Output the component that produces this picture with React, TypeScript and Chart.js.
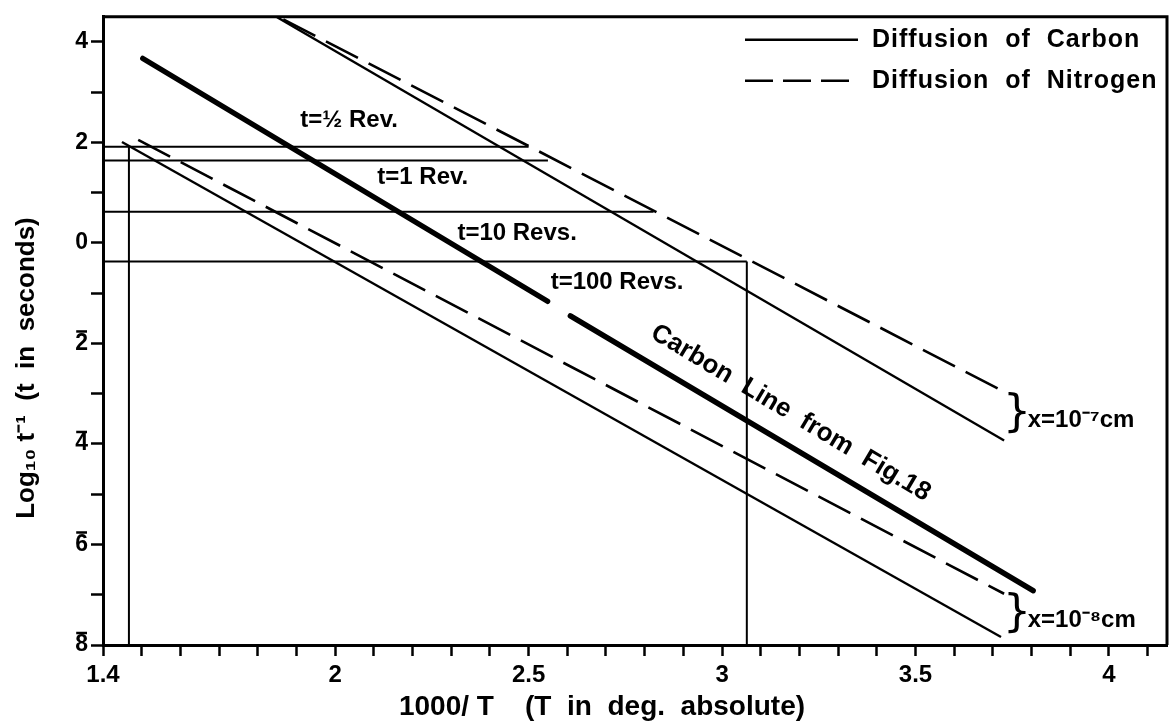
import React, { useEffect, useRef } from "react";
import { Chart, registerables } from "chart.js";

Chart.register(...registerables);

// ---- Axis ticks ----
const xLabelledTicks = [1.4, 2, 2.5, 3, 3.5, 4];
const yLabelledTicks = [4, 2, 0, -2, -4, -6, -8];
// negative characteristics are printed in bar notation (digit with an overline)
const yTickLabels = ["4", "2", "0", "2", "4", "6", "8"];
const yTickBarred = [false, false, false, true, true, true, true];

// ---- Carbon line from Fig. 18 (thick, with a break) ----
const fig18X = [1.503, 2.549, 2.578, 2.608, 3.804];
const fig18Y: (number | null)[] = [3.67, -1.16, null, -1.45, -6.92];

// ---- x = 1e-7 cm ----
const carbon7X = [1.85, 3.729];
const carbon7Y = [4.49, -3.93];
const nitrogen7X = [1.866, 3.734];
const nitrogen7Y = [4.45, -2.98];

// ---- x = 1e-8 cm ----
const carbon8X = [1.449, 3.721];
const carbon8Y = [2.01, -7.84];
const nitrogen8X = [1.491, 3.729];
const nitrogen8Y = [2.05, -6.98];

// ---- Revolution reference lines ----
const revLabels = ["t=\u00BD Rev.", "t=1 Rev.", "t=10 Revs.", "t=100 Revs."];
const revLogRate = [1.915, 1.64, 0.62, -0.37];
const revLineEndX = [2.5, 2.55, 2.823, 3.064];
const verticalX = [1.467, 3.064];
const verticalTopY = [1.915, -0.37];

// ---- label anchors (data units) ----
const revLabelX = [1.91, 2.109, 2.316, 2.557];
const revLabelY = [2.43, 1.295, 0.183, -0.78];
const sizeLabels = ["x=10\u207B\u2077cm", "x=10\u207B\u2078cm"];
const sizeLabelY = [-3.5, -7.48];
const sizeBraceX = 3.726;
const sizeLabelX = 3.79;

const FONT = "'Liberation Sans', Arial, sans-serif";
const Y_TICK_FONT_SIZE = 23;
const Y_TICK_LEN = 12;
const Y_TICK_PAD = 3;

function seg(xs: number[], ys: (number | null)[]) {
  return xs.map((x, i) => ({ x, y: ys[i] }));
}

export default function App() {
  const ref = useRef<HTMLCanvasElement | null>(null);

  useEffect(() => {
    document.body.style.margin = "0";
    const canvas = ref.current;
    if (!canvas) return;

    const solid = { borderColor: "#000", borderWidth: 2.4, pointRadius: 0, fill: false, tension: 0 };
    const dashed = { ...solid, borderWidth: 2.6, borderDash: [36, 12] };
    const thin = { borderColor: "#000", borderWidth: 2, pointRadius: 0, fill: false, tension: 0 };

    const datasets: any[] = [
      { label: "Carbon Line from Fig.18", data: seg(fig18X, fig18Y), ...solid, borderWidth: 5.5, spanGaps: false, borderCapStyle: "round" },
      { label: "Carbon 1e-7", data: seg(carbon7X, carbon7Y), ...solid },
      { label: "Nitrogen 1e-7", data: seg(nitrogen7X, nitrogen7Y), ...dashed },
      { label: "Carbon 1e-8", data: seg(carbon8X, carbon8Y), ...solid },
      { label: "Nitrogen 1e-8", data: seg(nitrogen8X, nitrogen8Y), ...dashed },
    ];
    revLogRate.forEach((r, i) => {
      datasets.push({ label: revLabels[i], data: [{ x: 1.4, y: r }, { x: revLineEndX[i], y: r }], ...thin });
    });
    verticalX.forEach((vx, i) => {
      datasets.push({ label: "v" + i, data: [{ x: vx, y: verticalTopY[i] }, { x: vx, y: -8 }], ...thin });
    });

    const annotate = {
      id: "annotate",
      afterDraw(chart: any) {
        const { ctx, chartArea: a, scales } = chart;
        const xs = scales.x, ys = scales.y;
        ctx.save();
        // frame (top + right)
        ctx.strokeStyle = "#000";
        ctx.lineWidth = 3;
        ctx.beginPath();
        ctx.moveTo(a.left, a.top);
        ctx.lineTo(a.right, a.top);
        ctx.lineTo(a.right, a.bottom);
        ctx.stroke();

        // overline bars on negative y tick labels
        ctx.font = `bold ${Y_TICK_FONT_SIZE}px ${FONT}`;
        ctx.lineWidth = 2.5;
        yLabelledTicks.forEach((v, i) => {
          if (!yTickBarred[i]) return;
          const w = ctx.measureText(yTickLabels[i]).width;
          const right = a.left - Y_TICK_LEN - Y_TICK_PAD;
          const yy = ys.getPixelForValue(v) - 12;
          ctx.beginPath();
          ctx.moveTo(right - w + 1, yy);
          ctx.lineTo(right - 1, yy);
          ctx.stroke();
        });

        ctx.fillStyle = "#000";
        // rev labels
        ctx.font = `bold 24px ${FONT}`;
        ctx.textAlign = "left";
        ctx.textBaseline = "middle";
        revLabels.forEach((t, i) => {
          ctx.fillText(t, xs.getPixelForValue(revLabelX[i]), ys.getPixelForValue(revLabelY[i]));
        });

        // rotated carbon label
        const x0 = xs.getPixelForValue(fig18X[0]), y0 = ys.getPixelForValue(fig18Y[0] as number);
        const x1 = xs.getPixelForValue(fig18X[4]), y1 = ys.getPixelForValue(fig18Y[4] as number);
        const ang = Math.atan2(y1 - y0, x1 - x0);
        const ax = 3.14;
        const ay = (fig18Y[0] as number) + ((fig18Y[4] as number) - (fig18Y[0] as number)) * (ax - fig18X[0]) / (fig18X[4] - fig18X[0]);
        const px = xs.getPixelForValue(ax) + Math.sin(ang) * 28;
        const py = ys.getPixelForValue(ay) - Math.cos(ang) * 28;
        ctx.save();
        ctx.translate(px, py);
        ctx.rotate(ang);
        ctx.textAlign = "center";
        ctx.font = `bold 26px ${FONT}`;
        ctx.fillText("Carbon  Line  from  Fig.18", 0, 0);
        ctx.restore();

        // size braces
        sizeLabels.forEach((t, i) => {
          const yy = ys.getPixelForValue(sizeLabelY[i]);
          ctx.font = `44px 'DejaVu Sans', sans-serif`;
          ctx.textAlign = "left";
          ctx.textBaseline = "middle";
          ctx.fillText("}", xs.getPixelForValue(sizeBraceX), yy - 4);
          ctx.font = `bold 24px ${FONT}`;
          ctx.fillText(t, xs.getPixelForValue(sizeLabelX), yy + 2);
        });

        // legend
        const lx0 = a.right - 422, lx1 = a.right - 309, tx = a.right - 295;
        const rows = [
          { t: "Diffusion  of  Carbon", dash: [] as number[], y: a.top + 23 },
          { t: "Diffusion  of  Nitrogen", dash: [28, 10], y: a.top + 64 },
        ];
        rows.forEach((r) => {
          ctx.setLineDash(r.dash);
          ctx.lineWidth = 2.5;
          ctx.beginPath();
          ctx.moveTo(lx0, r.y);
          ctx.lineTo(lx1, r.y);
          ctx.stroke();
          ctx.setLineDash([]);
          ctx.font = `bold 25px ${FONT}`;
          (ctx as any).letterSpacing = "1px";
          ctx.textAlign = "left";
          ctx.textBaseline = "middle";
          ctx.fillText(r.t, tx, r.y);
          (ctx as any).letterSpacing = "0px";
        });

        // axis titles
        ctx.font = `bold 28px ${FONT}`;
        ctx.textAlign = "center";
        ctx.textBaseline = "middle";
        ctx.fillText("1000/ T    (T  in  deg.  absolute)", 602, 707);
        ctx.save();
        ctx.translate(27, 368);
        ctx.rotate(-Math.PI / 2);
        ctx.font = `bold 26px ${FONT}`;
        ctx.fillText("Log\u2081\u2080 t\u207B\u00B9  (t  in  seconds)", 0, 0);
        ctx.restore();
        ctx.restore();
      },
    };

    const chart = new Chart(canvas, {
      type: "line",
      data: { datasets },
      options: {
        animation: false,
        responsive: false,
        devicePixelRatio: 1,
        layout: { padding: { top: 10, right: 3, left: 0, bottom: 0 } },
        plugins: { legend: { display: false }, tooltip: { enabled: false } },
        scales: {
          x: {
            type: "linear",
            min: 1.4,
            max: 4.15,
            afterFit: (s: any) => { s.height = 83; },
            ticks: {
              stepSize: 0.1,
              includeBounds: false,
              autoSkip: false,
              maxRotation: 0,
              padding: 5,
              color: "#000",
              font: { family: FONT, size: 24, weight: "bold" },
              callback: (v: any) => {
                const hit = xLabelledTicks.find((t) => Math.abs(t - Number(v)) < 1e-6);
                return hit === undefined ? "" : String(hit);
              },
            },
            grid: { drawOnChartArea: false, drawTicks: true, tickLength: 11, tickWidth: 2.5, tickColor: "#000" },
            border: { color: "#000", width: 3 },
          },
          y: {
            type: "linear",
            min: -8,
            max: 4.5,
            afterFit: (s: any) => { s.width = 103; },
            ticks: {
              stepSize: 1,
              includeBounds: false,
              autoSkip: false,
              padding: Y_TICK_PAD,
              color: "#000",
              font: { family: FONT, size: Y_TICK_FONT_SIZE, weight: "bold" },
              callback: (v: any) => {
                const idx = yLabelledTicks.findIndex((t) => Math.abs(t - Number(v)) < 1e-6);
                return idx < 0 ? "" : yTickLabels[idx];
              },
            },
            grid: { drawOnChartArea: false, drawTicks: true, tickLength: Y_TICK_LEN, tickWidth: 2.5, tickColor: "#000" },
            border: { color: "#000", width: 3 },
          },
        },
      },
      plugins: [annotate],
    } as any);

    return () => chart.destroy();
  }, []);

  return (
    <div style={{ width: 1170, height: 728, background: "#fff" }}>
      <canvas ref={ref} width={1170} height={728} />
    </div>
  );
}
